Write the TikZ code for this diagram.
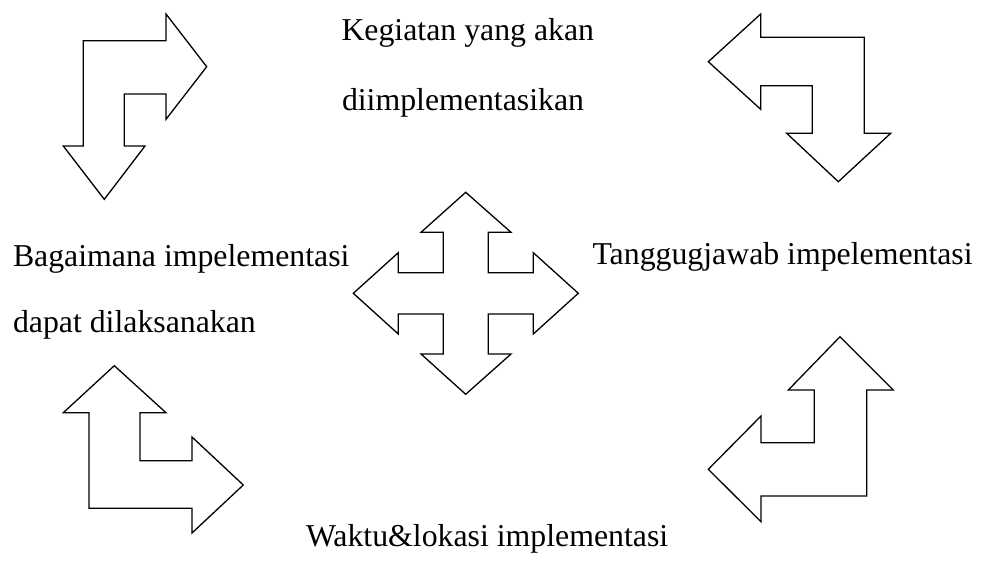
\documentclass[tikz,border=0pt]{standalone}
\usepackage{fontspec}
\setmainfont{Liberation Serif}
\begin{document}
\begin{tikzpicture}[x=1pt,y=-1pt,
  blockarrow/.style={draw=black,line width=1.3pt,line join=miter,fill=white},
  label/.style={anchor=base west,inner sep=0pt,outer sep=0pt,font=\fontsize{31.8}{38}\selectfont}]
\useasboundingbox (0,0) rectangle (983,560);
\fill[white] (0,0) rectangle (983,560);
% top-left bent arrow
\draw[blockarrow] (83.3,40.7) -- (166,40.7) -- (166,14) -- (206.7,66.7) -- (166,119.3) -- (166,94) -- (124.3,94) -- (124.3,146) -- (145,146) -- (104.3,199.3) -- (63.3,146) -- (83.3,146) -- cycle;
% top-right bent arrow
\draw[blockarrow] (708.3,61.7) -- (760.7,14) -- (760.7,37.3) -- (864.3,37.3) -- (864.3,133.3) -- (890.7,133.3) -- (838.3,181.7) -- (786.7,133.3) -- (812.3,133.3) -- (812.3,85.7) -- (760.7,85.7) -- (760.7,109.3) -- cycle;
% centre quad arrow
\draw[blockarrow] (465.7,192.3) -- (511,232.3) -- (488.3,232.3) -- (488.3,272.7) -- (533.3,272.7) -- (533.3,252.7) -- (578.3,293.3) -- (533.3,334) -- (533.3,314) -- (488.3,314) -- (488.3,354) -- (511,354) -- (465.7,394.3) -- (421,354) -- (443.3,354) -- (443.3,314) -- (398.3,314) -- (398.3,334) -- (353.3,293.3) -- (398.3,252.7) -- (398.3,272.7) -- (443.3,272.7) -- (443.3,232.3) -- (421,232.3) -- cycle;
% bottom-left bent arrow
\draw[blockarrow] (114.3,365.7) -- (166,412.7) -- (140,412.7) -- (140,460.7) -- (192,460.7) -- (192,437) -- (243.3,485) -- (192,533) -- (192,508.3) -- (89,508.3) -- (89,412.7) -- (63.3,412.7) -- cycle;
% bottom-right bent arrow
\draw[blockarrow] (840,336.7) -- (893.3,390) -- (866.7,390) -- (866.7,496) -- (761,496) -- (761,521.7) -- (708.3,469.3) -- (761,416) -- (761,442.7) -- (814.3,442.7) -- (814.3,390) -- (788.3,390) -- cycle;
% labels
\node[label] (keg1) at (341.5,40) {Kegiatan yang akan};
\node[label] (keg2) at (342,110) {diimplementasikan};
\node[label] (bag1) at (13,266) {Bagaimana impelementasi};
\node[label] (bag2) at (13,332) {dapat dilaksanakan};
\node[label] (tang) at (592.5,264) {Tanggugjawab impelementasi};
\node[label] (wak) at (306,546) {Waktu\&lokasi implementasi};
\end{tikzpicture}
\end{document}
